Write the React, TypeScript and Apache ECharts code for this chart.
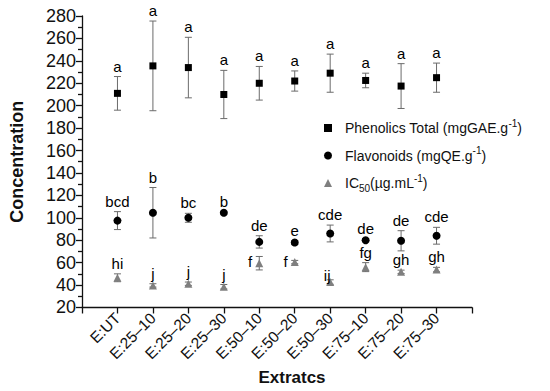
import React, { useEffect, useRef } from 'react';
import * as echarts from 'echarts';

const categories = ['E:UT', 'E:25\u201310', 'E:25\u201320', 'E:25\u201330', 'E:50\u201310', 'E:50\u201320', 'E:50\u201330', 'E:75\u201310', 'E:75\u201320', 'E:75\u201330'];

const phenolics = [211, 235.5, 234, 210, 220, 222, 229, 222.5, 217.5, 225];
const phenolicsErr = [15, 40, 27, 21.5, 15, 9, 17, 6.5, 20, 13];
const phenolicsLetters = ['a', 'a', 'a', 'a', 'a', 'a', 'a', 'a', 'a', 'a'];

const flavonoids = [97.5, 104.5, 100, 104.5, 78.5, 78, 86, 80, 79.5, 84];
const flavonoidsErr = [8, 22.5, 4, 1, 5.5, 1.5, 7.5, 1.5, 9, 7.5];
const flavonoidsLetters = ['bcd', 'b', 'bc', 'b', 'de', 'e', 'cde', 'de', 'de', 'cde'];

const ic50 = [46.5, 39.7, 41.2, 38.5, 59.5, 60.5, 42.7, 56, 51.8, 53.8];
const ic50Err = [3.5, 1.5, 1.5, 2, 6, 1.5, 2, 4, 1.5, 2];
const ic50Letters = ['hi', 'j', 'j', 'j', 'f', 'f', 'ij', 'fg', 'gh', 'gh'];
const ic50LabelSide = ['top', 'top', 'top', 'top', 'left', 'left', 'over', 'top', 'top', 'top'];

const yTicks = { min: 20, max: 280, interval: 20 };

const FONT = 'Liberation Sans, Arial, sans-serif';

export default function App() {
  const ref = useRef<HTMLDivElement>(null);

  useEffect(() => {
    if (!ref.current) return;
    const chart = echarts.init(ref.current, null, { renderer: 'svg' });

    const errSeries = (vals: number[], errs: number[]) => ({
      type: 'custom',
      silent: true,
      encode: { x: 0, y: [1, 2] },
      data: vals.map((v, i) => [i + 1, v - errs[i], v + errs[i]]),
      renderItem: (params: any, api: any) => {
        const x = api.value(0);
        const lo = api.coord([x, api.value(1)]);
        const hi = api.coord([x, api.value(2)]);
        const w = 3.5;
        const style = { stroke: '#6b6b6b', lineWidth: 1 };
        return {
          type: 'group',
          children: [
            { type: 'line', shape: { x1: lo[0], y1: lo[1], x2: hi[0], y2: hi[1] }, style },
            { type: 'line', shape: { x1: hi[0] - w, y1: hi[1], x2: hi[0] + w, y2: hi[1] }, style },
            { type: 'line', shape: { x1: lo[0] - w, y1: lo[1], x2: lo[0] + w, y2: lo[1] }, style },
          ],
        };
      },
    });

    const labelStyle = { show: true, color: '#000', fontSize: 15, fontFamily: FONT, distance: 3 };

    const letterSeries = (vals: number[], errs: number[], letters: string[], sides?: string[]) => ({
      type: 'scatter',
      silent: true,
      symbolSize: 0,
      itemStyle: { opacity: 1 },
      data: vals.map((v, i) => {
        const side = sides ? sides[i] : 'top';
        if (side === 'left') {
          return { value: [i + 1, v + errs[i] * 0.3, letters[i]], label: { position: 'left', distance: 7 } };
        }
        if (side === 'over') {
          return { value: [i + 1, v + errs[i], letters[i]], label: { position: 'top', distance: -3, offset: [-3, 0] } };
        }
        return { value: [i + 1, v + errs[i], letters[i]] };
      }),
      label: { ...labelStyle, position: 'top', formatter: (p: any) => p.value[2] },
      z: 5,
    });

    const rich = {
      pad: { width: 8 },
      a: { fontSize: 14, fontFamily: FONT, color: '#111', lineHeight: 20, verticalAlign: 'middle' },
      sup: { fontSize: 10, fontFamily: FONT, color: '#111', lineHeight: 10, verticalAlign: 'top' },
      sub: { fontSize: 10, fontFamily: FONT, color: '#111', lineHeight: 10, verticalAlign: 'bottom' },
    };

    const legendText: Record<string, string> = {
      'Phenolics Total': '{pad|}{a|Phenolics Total (mgGAE.g}{sup|-1}{a|)}',
      Flavonoids: '{pad|}{a|Flavonoids (mgQE.g}{sup|-1}{a|)}',
      IC50: '{pad|}{a|IC}{sub|50}{a|(\u00b5g.mL}{sup|-1}{a|)}',
    };

    chart.setOption({
      animation: false,
      grid: { left: 73, right: 78, top: 16, bottom: 81 },
      legend: {
        left: 319,
        top: 113,
        orient: 'vertical',
        itemWidth: 8,
        itemHeight: 8,
        itemGap: 10.5,
        selectedMode: false,
        data: [
          { name: 'Phenolics Total', icon: 'rect' },
          { name: 'Flavonoids', icon: 'circle' },
          { name: 'IC50', icon: 'triangle' },
        ],
        formatter: (n: string) => legendText[n],
        textStyle: { rich },
      },
      xAxis: {
        type: 'value',
        min: 0,
        max: 11,
        interval: 1,
        splitLine: { show: false },
        axisLine: { show: true, onZero: false, lineStyle: { color: '#111', width: 1.3 } },
        axisTick: { show: true, length: 6, lineStyle: { color: '#111', width: 1.3 } },
        axisLabel: {
          rotate: 45,
          fontSize: 15.5,
          fontFamily: FONT,
          color: '#111',
          margin: 8,
          formatter: (v: number) => (v >= 1 && v <= categories.length ? categories[v - 1] : ''),
        },
        name: 'Extratcs',
        nameLocation: 'middle',
        nameGap: 58,
        nameTextStyle: { fontSize: 17, fontWeight: 'bold', fontFamily: FONT, color: '#111', padding: [0, 0, 0, 30] },
      },
      yAxis: {
        type: 'value',
        min: yTicks.min,
        max: yTicks.max,
        interval: yTicks.interval,
        splitLine: { show: false },
        axisLine: { show: true, lineStyle: { color: '#111', width: 1.3 } },
        axisTick: { show: true, length: 6, lineStyle: { color: '#111', width: 1.3 } },
        minorTick: { show: true, splitNumber: 2, length: 4, lineStyle: { color: '#111', width: 1.3 } },
        axisLabel: { fontSize: 18, fontFamily: FONT, color: '#111', margin: 6 },
        name: 'Concentration',
        nameLocation: 'middle',
        nameGap: 56,
        nameTextStyle: { fontSize: 18, fontWeight: 'bold', fontFamily: FONT, color: '#111' },
      },
      series: [
        errSeries(phenolics, phenolicsErr),
        errSeries(flavonoids, flavonoidsErr),
        errSeries(ic50, ic50Err),
        {
          name: 'Phenolics Total',
          type: 'scatter',
          symbol: 'rect',
          symbolSize: 7,
          itemStyle: { color: '#000', opacity: 1 },
          data: phenolics.map((v, i) => [i + 1, v]),
        },
        {
          name: 'Flavonoids',
          type: 'scatter',
          symbol: 'circle',
          symbolSize: 8,
          itemStyle: { color: '#000', opacity: 1 },
          data: flavonoids.map((v, i) => [i + 1, v]),
        },
        {
          name: 'IC50',
          type: 'scatter',
          symbol: 'triangle',
          symbolSize: 8,
          itemStyle: { color: '#7f7f7f', opacity: 1 },
          data: ic50.map((v, i) => [i + 1, v]),
        },
        letterSeries(phenolics, phenolicsErr, phenolicsLetters),
        letterSeries(flavonoids, flavonoidsErr, flavonoidsLetters),
        letterSeries(ic50, ic50Err, ic50Letters, ic50LabelSide),
      ],
    });

    return () => chart.dispose();
  }, []);

  return <div ref={ref} style={{ width: 550, height: 391, margin: -8 }} />;
}
